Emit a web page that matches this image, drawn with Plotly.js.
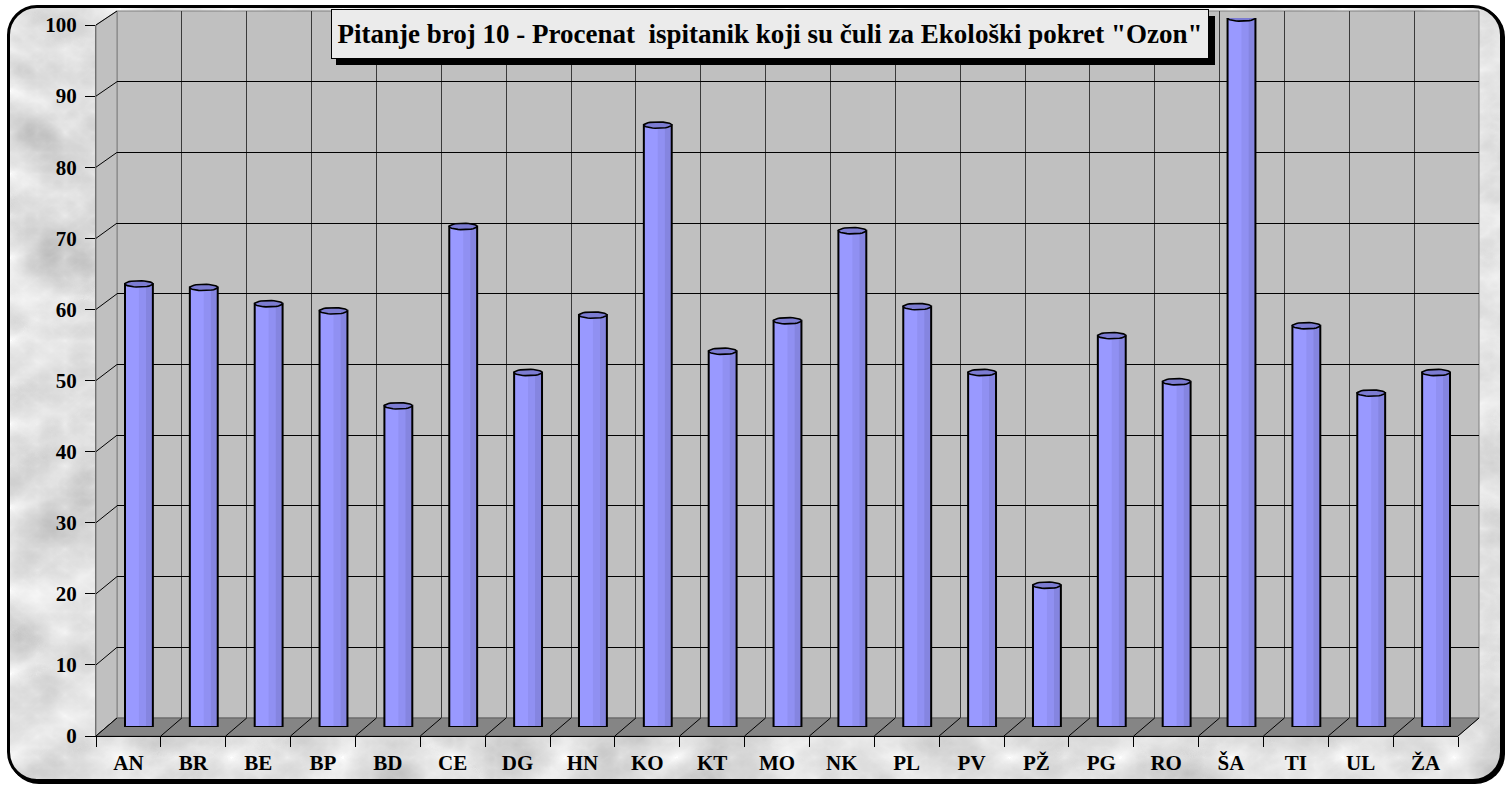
<!DOCTYPE html>
<html>
<head>
<meta charset="utf-8">
<script src="https://cdn.plot.ly/plotly-3.0.1.min.js"></script>
<style>
html,body{margin:0;padding:0;background:#ffffff;}
#wrap{position:relative;width:1508px;height:785px;overflow:hidden;}
#frame{position:absolute;left:7px;top:5px;width:1490px;height:771px;border:3px solid #000;border-radius:30px;
  box-shadow:2px 2px 0 #000;
  background-color:#e4e4e4;
  background-image:url("data:image/svg+xml;utf8,<svg xmlns='http://www.w3.org/2000/svg' width='1500' height='780'><filter id='f' x='0' y='0' width='100%25' height='100%25'><feTurbulence type='turbulence' baseFrequency='0.009 0.012' numOctaves='5' seed='11'/><feColorMatrix type='matrix' values='0.33 0.33 0.33 0 0 0.33 0.33 0.33 0 0 0.33 0.33 0.33 0 0 0 0 0 0 1'/><feComponentTransfer><feFuncR type='linear' slope='-0.75' intercept='0.99'/><feFuncG type='linear' slope='-0.75' intercept='0.99'/><feFuncB type='linear' slope='-0.75' intercept='0.99'/></feComponentTransfer></filter><rect width='1500' height='780' filter='url(%23f)'/></svg>");}
#chart{position:absolute;left:0;top:0;width:1508px;height:785px;}
</style>
</head>
<body>
<div id="wrap"><div id="frame"></div><div id="chart"></div></div>
<script>
// ---- data ----
const categories = ["AN","BR","BE","BP","BD","CE","DG","HN","KO","KT","MO","NK","PL","PV","PŽ","PG","RO","ŠA","TI","UL","ŽA"];
const values = [62.5,62,59.7,58.7,45.3,70.6,50,58.1,84.9,53,57.3,70,59.3,50,20,55.2,48.7,100,56.6,47.1,50];
const yTickValues = [0,10,20,30,40,50,60,70,80,90,100];
const titleText = 'Pitanje broj 10 - Procenat  ispitanik koji su čuli za Ekološki pokret "Ozon"';

// ---- geometry (pixels) ----
const W = 1508, H = 785;
const FX0 = 96, FX1 = 1458, FY0 = 736, FY1 = 25;   // front axes
const BX0 = 117, BX1 = 1479, BY0 = 718, BY1 = 11;  // back wall
const MX0 = (FX0 + BX0) / 2, MX1 = (FX1 + BX1) / 2, MY0 = (FY0 + BY0) / 2, MY1 = (FY1 + BY1) / 2; // bars mid depth
const px = x => x / W;
const py = y => 1 - y / H;
const n = categories.length;
const idx = categories.map((c, i) => i);
const barW = 0.43;

const font = 'Liberation Serif, Times New Roman, serif';

// cap ellipses computed from data
const capX = [], capY = [];
const capHalfH = 0.45;
values.forEach((v, i) => {
  for (let k = 0; k <= 32; k++) {
    const t = 2 * Math.PI * k / 32;
    capX.push(i + (barW / 2) * Math.cos(t));
    capY.push(v + capHalfH * Math.sin(t));
  }
  capX.push(null); capY.push(null);
});

const traces = [
  // invisible helpers defining category axes
  {type: 'scatter', x: categories, y: values, xaxis: 'x', yaxis: 'y', mode: 'markers', marker: {opacity: 0}, hoverinfo: 'skip', showlegend: false},
  {type: 'scatter', x: categories, y: values, xaxis: 'x3', yaxis: 'y3', mode: 'markers', marker: {opacity: 0}, hoverinfo: 'skip', showlegend: false},
  // cylinder body
  {type: 'bar', x: idx, y: values, xaxis: 'x2', yaxis: 'y2', width: barW, offset: -barW / 2,
   marker: {color: '#9999FF', line: {width: 0}}, hoverinfo: 'skip', showlegend: false},
  {type: 'bar', x: idx, y: values, xaxis: 'x2', yaxis: 'y2', width: barW * 0.25, offset: barW * 0.0,
   marker: {color: '#9090F2', line: {width: 0}}, hoverinfo: 'skip', showlegend: false},
  {type: 'bar', x: idx, y: values, xaxis: 'x2', yaxis: 'y2', width: barW * 0.25, offset: barW * 0.25,
   marker: {color: '#8585E0', line: {width: 0}}, hoverinfo: 'skip', showlegend: false},
  {type: 'bar', x: idx, y: values, xaxis: 'x2', yaxis: 'y2', width: barW, offset: -barW / 2,
   marker: {color: 'rgba(0,0,0,0)', line: {width: 2, color: '#000'}}, hoverinfo: 'skip', showlegend: false},
  // caps
  {type: 'scatter', x: capX, y: capY, xaxis: 'x2', yaxis: 'y2', mode: 'lines', fill: 'toself',
   fillcolor: '#7C7CD2', line: {color: '#000', width: 1.6}, connectgaps: false, hoverinfo: 'skip', showlegend: false}
];

// decorative 3D walls
const shapes = [];
shapes.push({type: 'rect', xref: 'paper', yref: 'paper', x0: px(BX0), x1: px(BX1), y0: py(BY0), y1: py(BY1),
  fillcolor: '#C0C0C0', line: {color: '#808080', width: 1}, layer: 'below'});
shapes.push({type: 'path', xref: 'paper', yref: 'paper', layer: 'below',
  path: `M${px(FX0)},${py(FY0)} L${px(FX0)},${py(FY1)} L${px(BX0)},${py(BY1)} L${px(BX0)},${py(BY0)} Z`,
  fillcolor: '#C0C0C0', line: {color: '#808080', width: 1}});
yTickValues.forEach(v => {
  const yf = FY0 + (FY1 - FY0) * v / 100;
  const yb = BY0 + (BY1 - BY0) * v / 100;
  shapes.push({type: 'line', xref: 'paper', yref: 'paper', layer: 'below',
    x0: px(FX0), y0: py(yf), x1: px(BX0), y1: py(yb), line: {color: '#000', width: 1}});
});
shapes.push({type: 'path', xref: 'paper', yref: 'paper', layer: 'below',
  path: `M${px(FX0)},${py(FY0)} L${px(BX0)},${py(BY0)} L${px(BX1)},${py(BY0)} L${px(FX1)},${py(FY0)} Z`,
  fillcolor: '#858585', line: {color: '#606060', width: 1}});
for (let i = 0; i <= n; i++) {
  const xf = FX0 + (FX1 - FX0) * i / n;
  const xb = BX0 + (BX1 - BX0) * i / n;
  shapes.push({type: 'line', xref: 'paper', yref: 'paper', layer: 'below',
    x0: px(xf), y0: py(FY0), x1: px(xb), y1: py(BY0), line: {color: '#000', width: 1}});
}
shapes.push({type: 'rect', xref: 'paper', yref: 'paper', layer: 'above',
  x0: px(336), x1: px(1215), y0: py(65), y1: py(16), fillcolor: '#000', line: {width: 0}});

const layout = {
  width: W, height: H,
  margin: {l: 0, r: 0, t: 0, b: 0, pad: 0},
  paper_bgcolor: 'rgba(0,0,0,0)',
  plot_bgcolor: 'rgba(0,0,0,0)',
  showlegend: false,
  hovermode: false,
  barmode: 'overlay',
  font: {family: font, color: '#000'},
  xaxis: {domain: [px(BX0), px(BX1)], anchor: 'y', type: 'category', categoryarray: categories, categoryorder: 'array',
    range: [-0.5, n - 0.5], autorange: false,
    showgrid: true, gridcolor: '#3a3a3a', gridwidth: 1, tickson: 'boundaries', ticks: '', showticklabels: false,
    showline: false, zeroline: false, fixedrange: true},
  yaxis: {domain: [py(BY0), py(BY1)], anchor: 'x', range: [0, 100], tickmode: 'array', tickvals: yTickValues,
    showgrid: true, gridcolor: '#000', gridwidth: 1, showticklabels: false, ticks: '', zeroline: false, showline: false, fixedrange: true},
  xaxis2: {domain: [px(MX0), px(MX1)], anchor: 'y2', range: [-0.5, n - 0.5], visible: false, fixedrange: true},
  yaxis2: {domain: [py(MY0), py(MY1)], anchor: 'x2', range: [0, 100], visible: false, fixedrange: true},
  xaxis3: {domain: [px(FX0), px(FX1)], anchor: 'y3', type: 'category', categoryarray: categories, categoryorder: 'array',
    range: [-0.5, n - 0.5], autorange: false,
    showgrid: false, zeroline: false, tickson: 'boundaries', ticks: 'outside', ticklen: 10, tickwidth: 1, tickcolor: '#000',
    showline: true, linecolor: '#000', linewidth: 1,
    tickfont: {family: font, size: 21, color: '#000', weight: 'bold'}, ticklabelstandoff: 8, fixedrange: true},
  yaxis3: {domain: [py(FY0), py(FY1)], anchor: 'x3', range: [0, 100], tickmode: 'array', tickvals: yTickValues,
    showgrid: false, zeroline: false, ticks: 'outside', ticklen: 10, tickwidth: 1, tickcolor: '#000',
    showline: true, linecolor: '#707070', linewidth: 1,
    tickfont: {family: font, size: 21, color: '#000', weight: 'bold'}, ticklabelstandoff: 4, fixedrange: true},
  shapes: shapes,
  annotations: [{
    xref: 'paper', yref: 'paper', x: px(769.5), y: py(34.5), xanchor: 'center', yanchor: 'middle',
    text: titleText.replace(/  /g, ' \u00a0'), showarrow: false,
    font: {family: font, size: 27, color: '#000', weight: 'bold'},
    bgcolor: '#EBEBEB', bordercolor: '#000', borderwidth: 1, borderpad: 2,
    width: 872, height: 44
  }]
};

Plotly.newPlot('chart', traces, layout, {displayModeBar: false, staticPlot: true});
</script>
</body>
</html>
